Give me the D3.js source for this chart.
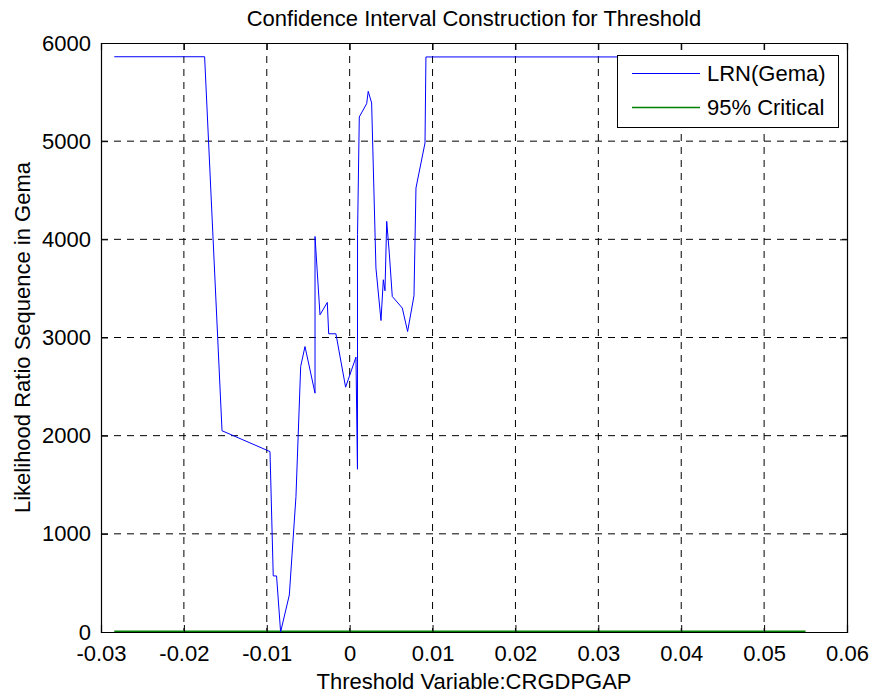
<!DOCTYPE html>
<html>
<head>
<meta charset="utf-8">
<script src="https://cdn.jsdelivr.net/npm/d3@7"></script>
<style>
  body { margin: 0; background: #fff; }
  text { font-family: "Liberation Sans", Arial, sans-serif; fill: #000; }
</style>
</head>
<body>
<div class="chart"></div>
<script>
// threshold values (x) and LR statistic (y)
var thresholdX = [-0.0284, -0.0175, -0.0154, -0.00961, -0.00922, -0.00882, -0.00833, -0.00728,
  -0.00648, -0.00591, -0.00539, -0.00418, -0.00418, -0.00358, -0.00270, -0.00253, -0.00166,
  -0.00049, 0.00076, 0.00094, 0.00095, 0.00116, 0.00205, 0.00224, 0.00265, 0.00317, 0.00378,
  0.00406, 0.00426, 0.00447, 0.00478, 0.00514, 0.00635, 0.00699, 0.00776, 0.00800, 0.00909,
  0.00920, 0.0550];
var lrValues = [5860, 5860, 2050, 1838, 571, 571, 0, 377,
  1379, 2704, 2908, 2433, 4029, 3231, 3357, 3038, 3038,
  2494, 2800, 1658, 4050, 5247, 5382, 5508, 5389, 3707, 3173,
  3588, 3476, 4183, 3860, 3418, 3300, 3061, 3425, 4523, 4982,
  5858, 5858];
var criticalX = [-0.0284, 0.0550];
var criticalValue = 7.35;
var xTicks = [-0.03, -0.02, -0.01, 0, 0.01, 0.02, 0.03, 0.04, 0.05, 0.06];
var yTicks = [0, 1000, 2000, 3000, 4000, 5000, 6000];
var seriesNames = ["LRN(Gema)", "95% Critical"];
var seriesColors = ["#0000ff", "#008000"];

var width = 873, height = 693;
var plotLeft = 101, plotRight = 847, plotTop = 43, plotBottom = 632;
var fontSize = "22px";

var svg = d3.select(".chart").append("svg")
  .attr("width", width)
  .attr("height", height);

var x = d3.scaleLinear().domain([-0.03, 0.06]).range([plotLeft, plotRight]);
var y = d3.scaleLinear().domain([0, 6000]).range([plotBottom, plotTop]);

/************* grid ***************/
var grid = svg.append("g").attr("class", "grid");
grid.selectAll("line.vx")
  .data(xTicks.slice(1, -1))
  .enter().append("line")
    .attr("x1", d => x(d)).attr("x2", d => x(d))
    .attr("y1", plotTop).attr("y2", plotBottom)
    .attr("stroke", "#000").attr("stroke-width", 1)
    .attr("stroke-dasharray", "7,6");
grid.selectAll("line.hy")
  .data(yTicks.slice(1, -1))
  .enter().append("line")
    .attr("x1", plotLeft).attr("x2", plotRight)
    .attr("y1", d => y(d)).attr("y2", d => y(d))
    .attr("stroke", "#000").attr("stroke-width", 1)
    .attr("stroke-dasharray", "7,6");

/************* series ***************/
var line = d3.line().x(d => x(d[0])).y(d => y(d[1]));

svg.append("path")
  .datum(criticalX.map(v => [v, criticalValue]))
  .attr("fill", "none")
  .attr("stroke", seriesColors[1])
  .attr("stroke-width", 1.5)
  .attr("d", line);

svg.append("path")
  .datum(thresholdX.map((v, i) => [v, lrValues[i]]))
  .attr("fill", "none")
  .attr("stroke", seriesColors[0])
  .attr("stroke-width", 1)
  .attr("d", line);

/************* axes ***************/
var fmtX = d => d === 0 ? "0" : d3.format(".2f")(d).replace("−", "-");

svg.append("g")
  .attr("transform", "translate(0," + plotBottom + ")")
  .call(d3.axisBottom(x).tickValues(xTicks).tickSize(-7).tickPadding(13).tickFormat(fmtX));
svg.append("g")
  .attr("transform", "translate(0," + plotTop + ")")
  .call(d3.axisTop(x).tickValues(xTicks).tickSize(-7).tickFormat(""));
svg.append("g")
  .attr("transform", "translate(" + plotLeft + ",0)")
  .call(d3.axisLeft(y).tickValues(yTicks).tickSize(-7).tickPadding(10).tickFormat(d3.format("d")));
svg.append("g")
  .attr("transform", "translate(" + plotRight + ",0)")
  .call(d3.axisRight(y).tickValues(yTicks).tickSize(-7).tickFormat(""));

svg.selectAll(".domain").attr("stroke", "#000").attr("stroke-width", 1.2);
svg.selectAll(".tick line").attr("stroke", "#000");
svg.selectAll(".tick text")
  .style("font-family", '"Liberation Sans", Arial, sans-serif')
  .style("font-size", fontSize)
  .attr("fill", "#000");

/************* labels ***************/
svg.append("text")
  .attr("x", (plotLeft + plotRight) / 2).attr("y", 26)
  .attr("text-anchor", "middle")
  .style("font-size", fontSize)
  .text("Confidence Interval Construction for Threshold");

svg.append("text")
  .attr("x", (plotLeft + plotRight) / 2).attr("y", 689)
  .attr("text-anchor", "middle")
  .style("font-size", fontSize)
  .text("Threshold Variable:CRGDPGAP");

svg.append("text")
  .attr("transform", "translate(30," + (plotTop + plotBottom) / 2 + ") rotate(-90)")
  .attr("text-anchor", "middle")
  .style("font-size", fontSize)
  .text("Likelihood Ratio Sequence in Gema");

/************* legend ***************/
var legend = svg.append("g").attr("class", "legend");
legend.append("rect")
  .attr("x", 617.5).attr("y", 55.5)
  .attr("width", 221).attr("height", 72)
  .attr("fill", "#fff").attr("stroke", "#000").attr("stroke-width", 1);

seriesNames.forEach(function(name, i) {
  var ly = 73.5 + i * 34;
  legend.append("line")
    .attr("x1", 632).attr("x2", 700)
    .attr("y1", ly).attr("y2", ly)
    .attr("stroke", seriesColors[i])
    .attr("stroke-width", i ? 1.5 : 1);
  legend.append("text")
    .attr("x", 707).attr("y", ly)
    .attr("dy", "0.36em")
    .style("font-size", fontSize)
    .text(name);
});
</script>
</body>
</html>
